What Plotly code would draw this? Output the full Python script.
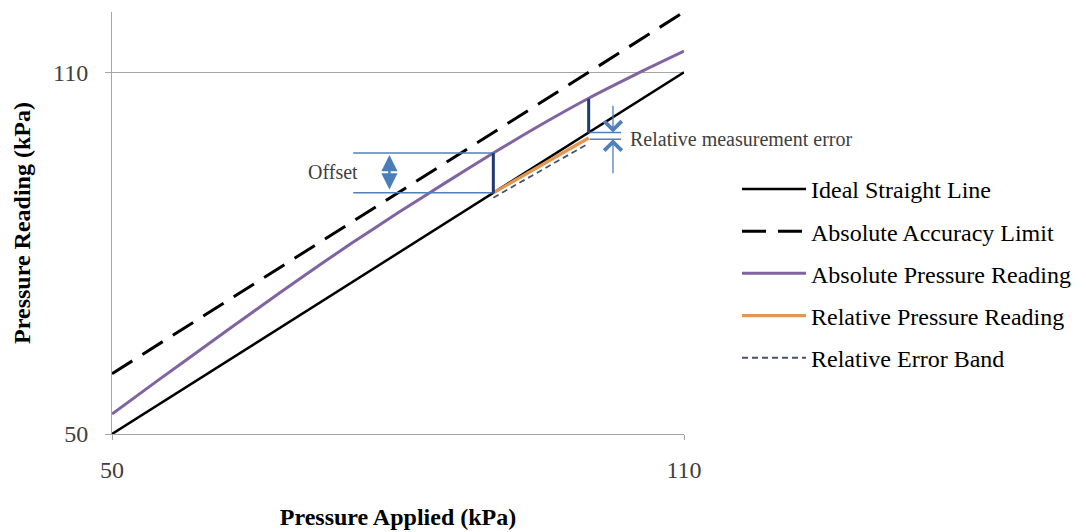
import plotly.graph_objects as go

# ---- data ----
applied = [50, 55, 60, 65, 70, 75, 80, 85, 90, 95, 100, 105, 110]
ideal = [50, 55, 60, 65, 70, 75, 80, 85, 90, 95, 100, 105, 110]
abs_limit_x = [50, 110]
abs_limit_y = [60, 120]
abs_reading = [53.3, 59.1, 64.8, 70.5, 76.1, 81.5, 86.7, 91.7, 96.6, 101.3, 105.7, 109.7, 113.5]
rel_x = [90, 100]
rel_reading = [90.0, 99.1]
band_y = [89.2, 98.2]

x_ticks = [50, 110]
y_ticks = [50, 110]

# annotation anchors (data units)
offset_x0, offset_x1 = 75.3, 90
offset_lo, offset_hi = 90.0, 96.6
offset_arrow_x = 79.1
rel_err_x0, rel_err_x1 = 100.1, 103.4
rel_err_hi, rel_err_lo = 100.0, 98.9
rel_err_arrow_x = 102.55
rel_err_top, rel_err_bottom = 104.7, 93.0
navy2_lo, navy2_hi = 99.9, 105.6

SERIF = "Liberation Serif"
BLUE = "#5080BA"
NAVY = "#1F3A6E"

fig = go.Figure()
fig.add_trace(go.Scatter(x=applied, y=ideal, mode="lines", name="Ideal Straight Line",
                         line=dict(color="black", width=2.5)))
fig.add_trace(go.Scatter(x=abs_limit_x, y=abs_limit_y, mode="lines", name="Absolute Accuracy Limit",
                         line=dict(color="black", width=3, dash="24px,12px")))
fig.add_trace(go.Scatter(x=applied, y=abs_reading, mode="lines", name="Absolute Pressure Reading",
                         line=dict(color="#8064A2", width=3, shape="spline", smoothing=0.6)))
fig.add_trace(go.Scatter(x=rel_x, y=rel_reading, mode="lines", name="Relative Pressure Reading",
                         line=dict(color="#E3964E", width=3.2)))
fig.add_trace(go.Scatter(x=rel_x, y=band_y, mode="lines", name="Relative Error Band",
                         line=dict(color="#44546A", width=1.8, dash="6px,4px")))

shapes = []
for yy in (offset_lo, offset_hi):
    shapes.append(dict(type="line", xref="x", yref="y", x0=offset_x0, x1=offset_x1, y0=yy, y1=yy,
                       line=dict(color=BLUE, width=1.5)))
for yy in (rel_err_hi, rel_err_lo):
    shapes.append(dict(type="line", xref="x", yref="y", x0=rel_err_x0, x1=rel_err_x1, y0=yy, y1=yy,
                       line=dict(color=BLUE, width=1.5)))
shapes.append(dict(type="line", xref="x", yref="y", x0=offset_x1, x1=offset_x1, y0=offset_lo, y1=offset_hi,
                   line=dict(color=NAVY, width=3)))
shapes.append(dict(type="line", xref="x", yref="y", x0=100, x1=100, y0=navy2_lo, y1=navy2_hi,
                   line=dict(color=NAVY, width=3)))
fig.update_layout(shapes=shapes)

annotations = [
    dict(x=offset_arrow_x, y=offset_hi - 0.3, ax=offset_arrow_x, ay=offset_lo + 0.3,
         xref="x", yref="y", axref="x", ayref="y", text="", showarrow=True,
         arrowhead=2, startarrowhead=2, arrowside="end+start", arrowsize=1.3,
         arrowwidth=2.5, arrowcolor="#4A7EBB"),
    dict(x=rel_err_arrow_x, y=rel_err_hi, ax=rel_err_arrow_x, ay=rel_err_top,
         xref="x", yref="y", axref="x", ayref="y", text="", showarrow=True,
         arrowhead=4, arrowsize=2.6, arrowwidth=1.3, arrowcolor=BLUE),
    dict(x=rel_err_arrow_x, y=rel_err_lo, ax=rel_err_arrow_x, ay=rel_err_bottom,
         xref="x", yref="y", axref="x", ayref="y", text="", showarrow=True,
         arrowhead=4, arrowsize=2.6, arrowwidth=1.3, arrowcolor=BLUE),
    dict(x=73.2, y=93.4, xref="x", yref="y", text="Offset", showarrow=False,
         font=dict(family=SERIF, size=20, color="#404040")),
    dict(x=104.1, y=99.0, xref="x", yref="y", text="Relative measurement error", showarrow=False,
         xanchor="left", font=dict(family=SERIF, size=20, color="#404040")),
]
fig.update_layout(annotations=annotations)

fig.update_xaxes(range=[50, 110], tickvals=x_ticks, ticktext=[str(v) for v in x_ticks],
                 showgrid=True, gridcolor="#A6A6A6", gridwidth=1, zeroline=False,
                 showline=True, linecolor="#A6A6A6", linewidth=1,
                 ticks="outside", ticklen=5, tickcolor="#A6A6A6", ticklabelstandoff=9,
                 tickfont=dict(family=SERIF, size=24, color="#404040"),
                 title=dict(text="<b>Pressure Applied (kPa)</b>", standoff=26,
                            font=dict(family=SERIF, size=24, color="black")))
fig.update_yaxes(range=[50, 120], tickvals=y_ticks, ticktext=[str(v) for v in y_ticks],
                 showgrid=True, gridcolor="#A6A6A6", gridwidth=1, zeroline=False,
                 showline=True, linecolor="#A6A6A6", linewidth=1,
                 ticks="outside", ticklen=6, tickcolor="#A6A6A6", ticklabelstandoff=12,
                 tickfont=dict(family=SERIF, size=24, color="#404040"),
                 title=dict(text="<b>Pressure Reading (kPa)</b>", standoff=15,
                            font=dict(family=SERIF, size=24, color="black")))

fig.update_layout(
    width=1086, height=532,
    margin=dict(l=104, r=410, t=4, b=106, autoexpand=False),
    paper_bgcolor="white", plot_bgcolor="white",
    showlegend=True,
    legend=dict(x=1.0927, y=0.633, xanchor="left", yanchor="top",
                font=dict(family=SERIF, size=24, color="black"),
                itemwidth=64,
                tracegroupgap=8, traceorder="grouped", bgcolor="rgba(0,0,0,0)"),
)
for i, tr in enumerate(fig.data):
    tr.legendgroup = f"g{i}"

fig.write_html("out.html")
